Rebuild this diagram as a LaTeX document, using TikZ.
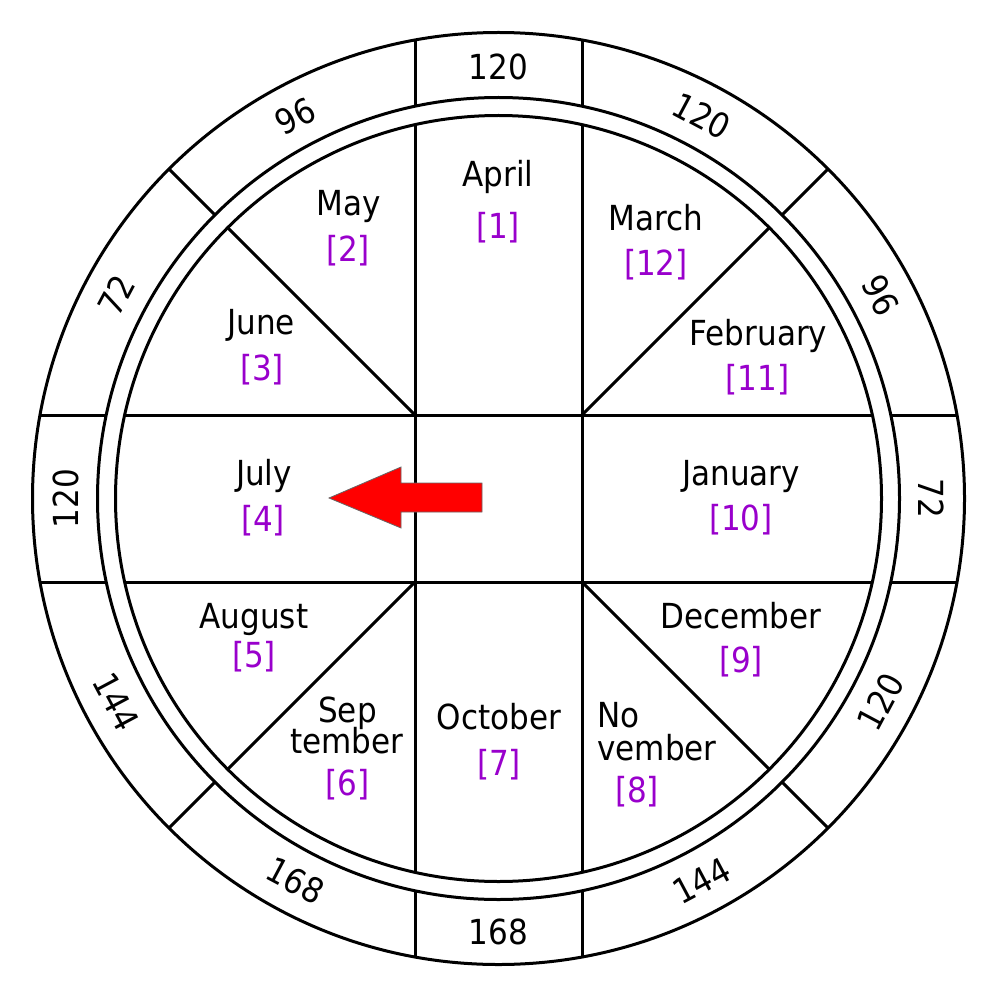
\documentclass[tikz,border=0pt]{standalone}
\usepackage{fontspec}
\setmainfont{DejaVu Sans Condensed}
\definecolor{numpurple}{RGB}{153,0,204}
\newcommand\mfont{\fontsize{17.25}{20}\selectfont}
\begin{document}
\begin{tikzpicture}[x=0.5pt,y=-0.5pt,
  ln/.style={line width=1.5pt},
  mon/.style={font=\mfont, anchor=base, inner sep=0pt},
  mnum/.style={mon, text=numpurple},
  rlab/.style={font=\mfont, inner sep=0pt, anchor=center}]
\useasboundingbox (0,0) rectangle (1000,1000);
\coordinate (C) at (498.5,498.5);
% circles
\draw[ln] (C) circle[radius=466];
\draw[ln] (C) circle[radius=401];
\draw[ln] (C) circle[radius=383];
% ring dividers
\draw[ln] (415,39) -- (415,106.3);
\draw[ln] (582,39) -- (582,106.3);
\draw[ln] (415,958) -- (415,890.7);
\draw[ln] (582,958) -- (582,890.7);
\draw[ln] (39,415) -- (106.3,415);
\draw[ln] (39,582) -- (106.3,582);
\draw[ln] (958,415) -- (890.7,415);
\draw[ln] (958,582) -- (890.7,582);
\draw[ln] (215,215) -- (169,169);
\draw[ln] (782,215) -- (828,169);
\draw[ln] (215,782) -- (169,828);
\draw[ln] (782,782) -- (828,828);
% inner chords
\draw[ln] (415,124.7) -- (415,872.3);
\draw[ln] (582,124.7) -- (582,872.3);
\draw[ln] (124.7,415) -- (872.3,415);
\draw[ln] (124.7,582) -- (872.3,582);
% inner diagonals
\draw[ln] (415,415) -- (227.7,227.7);
\draw[ln] (582,415) -- (769.3,227.7);
\draw[ln] (415,582) -- (227.7,769.3);
\draw[ln] (582,582) -- (769.3,769.3);
% arrow
\filldraw[fill=red, draw=black!60, line width=0.4pt] (329,498) -- (401,467) -- (401,483) -- (482,483) -- (482,512) -- (401,512) -- (401,528) -- cycle;
% ring labels
\node[rlab] (r1) at (498.5,67) {120};
\node[rlab, rotate=-28] (r2) at (701.8,116.2) {120};
\node[rlab, rotate=-62] (r3) at (880.8,295.2) {96};
\node[rlab, rotate=-90] (r4) at (931.5,498.5) {72};
\node[rlab, rotate=62] (r5) at (880.8,701.8) {120};
\node[rlab, rotate=28] (r6) at (701.8,880.8) {144};
\node[rlab] (r7) at (498.5,932) {168};
\node[rlab, rotate=-28] (r8) at (295.2,880.8) {168};
\node[rlab, rotate=-62] (r9) at (116.2,701.8) {144};
\node[rlab, rotate=90] (r10) at (66,498.5) {120};
\node[rlab, rotate=62] (r11) at (116.2,295.2) {72};
\node[rlab, rotate=28] (r12) at (295.2,116.2) {96};
% month labels
\node[mon] (apr) at (498,187) {April};
\node[mnum] (apr-n) at (498,239) {[1]};
\node[mon] (may) at (349,216) {May};
\node[mnum] (may-n) at (348,261) {[2]};
\node[mon] (mar) at (655.5,230) {March};
\node[mnum] (mar-n) at (656,275) {[12]};
\node[mon] (jun) at (261,334) {June};
\node[mnum] (jun-n) at (262,380) {[3]};
\node[mon] (feb) at (758.5,345) {February};
\node[mnum] (feb-n) at (757.5,390) {[11]};
\node[mon] (jul) at (264,485) {July};
\node[mnum] (jul-n) at (263,531) {[4]};
\node[mon] (jan) at (741,485) {January};
\node[mnum] (jan-n) at (741,530) {[10]};
\node[mon] (aug) at (254,628) {August};
\node[mnum] (aug-n) at (254,667) {[5]};
\node[mon] (dec) at (741,628) {December};
\node[mnum] (dec-n) at (741,672) {[9]};
\node[mon] (sep1) at (347.5,722) {Sep};
\node[mon] (sep2) at (347,753) {tember};
\node[mnum] (sep-n) at (347.5,795) {[6]};
\node[mon] (oct) at (499,729) {October};
\node[mnum] (oct-n) at (499,775) {[7]};
\node[mon, anchor=base west] (nov1) at (597,727) {No};
\node[mon, anchor=base west] (nov2) at (597,760) {vember};
\node[mnum] (nov-n) at (637,802) {[8]};
\end{tikzpicture}
\end{document}
